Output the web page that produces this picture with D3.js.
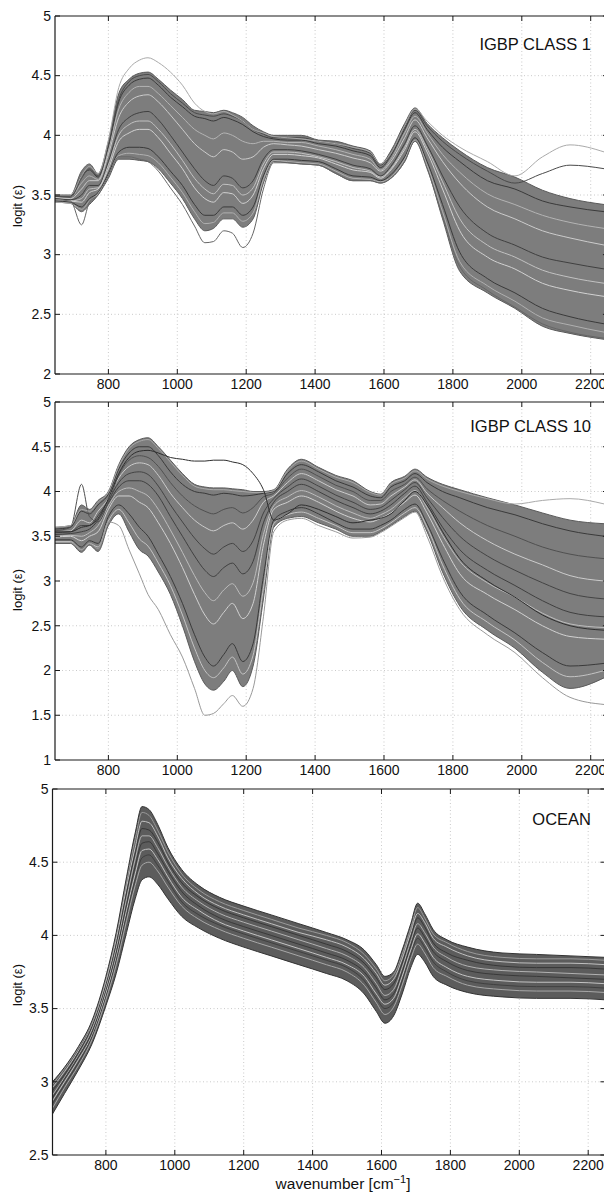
<!DOCTYPE html>
<html>
<head>
<meta charset="utf-8">
<script src="https://cdn.jsdelivr.net/npm/d3@7"></script>
<style>
  body { margin: 0; background: #fff; }
  svg { display: block; font-family: "Liberation Sans", Arial, sans-serif; }
</style>
</head>
<body>
<svg id="chart" width="604" height="1195"></svg>
<script>
// wavenumber grid for the two land classes (cm-1)
var wnLand = [645, 690, 722, 745, 770, 800, 830, 860, 890, 915,
              945, 980, 1015, 1050, 1080, 1105, 1135, 1160, 1190, 1220,
              1250, 1280, 1320, 1360, 1410, 1460, 1510, 1560, 1590, 1620,
              1660, 1690, 1725, 1770, 1820, 1900, 1980, 2060, 2140, 2240];

// IGBP class 1 : band edges and single spectra
var c1Upper = [3.50,3.50,3.70,3.76,3.68,3.95,4.35,4.47,4.52,4.53,
               4.47,4.38,4.30,4.21,4.20,4.19,4.21,4.19,4.15,4.08,
               4.03,4.00,4.00,4.00,3.96,3.95,3.91,3.87,3.76,3.87,
               4.10,4.23,4.10,3.98,3.87,3.73,3.65,3.54,3.47,3.42];
var c1Lower = [3.44,3.43,3.36,3.42,3.50,3.64,3.80,3.80,3.79,3.78,
               3.72,3.60,3.47,3.30,3.20,3.22,3.30,3.30,3.23,3.30,
               3.60,3.78,3.77,3.76,3.75,3.68,3.62,3.62,3.60,3.64,
               3.78,3.95,3.73,3.30,2.86,2.68,2.55,2.40,2.34,2.29];
var c1LineA = [3.49,3.49,3.66,3.71,3.65,3.90,4.28,4.42,4.47,4.48,
               4.42,4.32,4.24,4.16,4.14,4.12,4.15,4.13,4.09,4.03,
               3.99,3.97,3.96,3.96,3.93,3.91,3.87,3.83,3.73,3.83,
               4.05,4.19,4.05,3.90,3.78,3.62,3.55,3.45,3.40,3.36];
var c1LineF = [3.48,3.48,3.60,3.66,3.63,3.87,4.22,4.36,4.41,4.41,
               4.35,4.25,4.15,4.05,4.00,3.97,4.02,4.00,3.95,3.93,
               3.95,3.95,3.94,3.94,3.91,3.88,3.84,3.80,3.71,3.80,
               4.02,4.16,4.02,3.84,3.69,3.51,3.42,3.33,3.27,3.22];
var c1LineB = [3.48,3.47,3.55,3.62,3.62,3.84,4.15,4.28,4.33,4.34,
               4.28,4.17,4.05,3.93,3.86,3.82,3.88,3.86,3.80,3.82,
               3.90,3.93,3.92,3.91,3.88,3.85,3.81,3.77,3.70,3.78,
               3.98,4.13,3.98,3.78,3.60,3.40,3.30,3.20,3.14,3.08];
var c1LineC = [3.47,3.46,3.50,3.58,3.58,3.78,4.05,4.15,4.19,4.20,
               4.13,4.00,3.86,3.72,3.62,3.58,3.66,3.64,3.56,3.62,
               3.80,3.88,3.88,3.87,3.84,3.80,3.75,3.72,3.66,3.74,
               3.93,4.08,3.92,3.66,3.40,3.18,3.08,2.98,2.93,2.88];
var c1LineG = [3.46,3.45,3.47,3.55,3.56,3.75,4.00,4.09,4.12,4.12,
               4.05,3.93,3.79,3.64,3.55,3.51,3.59,3.58,3.50,3.56,
               3.76,3.86,3.86,3.85,3.82,3.78,3.73,3.70,3.65,3.72,
               3.90,4.05,3.89,3.61,3.30,3.08,2.98,2.87,2.81,2.76];
var c1LineD = [3.46,3.45,3.44,3.52,3.55,3.72,3.95,4.02,4.05,4.05,
               3.98,3.85,3.72,3.56,3.47,3.44,3.52,3.51,3.43,3.50,
               3.72,3.84,3.84,3.83,3.81,3.76,3.71,3.69,3.64,3.71,
               3.88,4.03,3.86,3.55,3.20,2.98,2.88,2.76,2.70,2.65];
var c1LineE = [3.45,3.44,3.40,3.47,3.52,3.68,3.86,3.90,3.90,3.89,
               3.82,3.70,3.58,3.42,3.33,3.33,3.40,3.40,3.33,3.40,
               3.66,3.80,3.80,3.79,3.78,3.72,3.66,3.65,3.62,3.67,
               3.82,3.98,3.78,3.42,3.02,2.80,2.68,2.55,2.48,2.42];
var c1LineH = [3.44,3.43,3.38,3.45,3.51,3.66,3.83,3.85,3.84,3.83,
               3.77,3.65,3.52,3.36,3.26,3.27,3.35,3.35,3.28,3.35,
               3.63,3.79,3.78,3.77,3.76,3.70,3.64,3.63,3.61,3.65,
               3.80,3.96,3.75,3.36,2.94,2.74,2.61,2.47,2.41,2.35];
var c1High  = [3.50,3.50,3.66,3.74,3.68,3.96,4.40,4.56,4.63,4.65,
               4.61,4.53,4.42,4.27,4.20,4.18,4.20,4.17,4.12,4.05,
               4.02,3.99,3.98,3.97,3.95,3.93,3.90,3.86,3.76,3.85,
               4.08,4.22,4.12,4.00,3.90,3.78,3.66,3.82,3.92,3.86];
var c1Top2  = [3.49,3.48,3.64,3.72,3.66,3.92,4.30,4.45,4.50,4.51,
               4.45,4.35,4.27,4.19,4.17,4.16,4.18,4.16,4.12,4.05,
               4.01,3.98,3.98,3.98,3.95,3.93,3.89,3.85,3.75,3.85,
               4.07,4.21,4.08,3.95,3.84,3.70,3.60,3.68,3.75,3.72];
var c1Low   = [3.46,3.45,3.25,3.44,3.50,3.66,3.82,3.82,3.80,3.78,
               3.70,3.56,3.42,3.24,3.10,3.11,3.20,3.18,3.06,3.18,
               3.55,3.77,3.77,3.76,3.75,3.68,3.62,3.62,3.60,3.64,
               3.78,3.95,3.72,3.32,2.90,2.70,2.56,2.42,2.35,2.30];

// IGBP class 10
var c10Upper = [3.60,3.62,3.85,3.80,3.90,4.00,4.30,4.50,4.58,4.60,
                4.50,4.35,4.20,4.08,4.05,4.04,4.04,4.03,4.02,4.00,
                4.00,4.02,4.25,4.36,4.27,4.18,4.12,4.00,3.97,4.10,
                4.17,4.25,4.16,4.08,4.02,3.93,3.85,3.76,3.68,3.64];
var c10Lower = [3.42,3.42,3.32,3.40,3.33,3.62,3.75,3.55,3.35,3.28,
                3.10,2.85,2.50,2.10,1.85,1.78,1.88,2.00,1.82,2.05,
                2.80,3.60,3.70,3.72,3.65,3.58,3.50,3.50,3.55,3.62,
                3.72,3.78,3.55,3.10,2.72,2.45,2.25,1.98,1.80,1.92];
var c10LineA = [3.58,3.60,3.78,3.75,3.85,3.97,4.25,4.43,4.50,4.50,
                4.40,4.22,4.08,4.00,3.98,3.96,3.98,3.97,3.95,3.96,
                3.98,4.00,4.20,4.30,4.22,4.12,4.05,3.95,3.93,4.05,
                4.12,4.20,4.10,4.00,3.93,3.82,3.74,3.64,3.56,3.50];
var c10LineB = [3.55,3.56,3.68,3.65,3.78,3.92,4.15,4.28,4.32,4.30,
                4.18,3.98,3.82,3.68,3.60,3.56,3.62,3.65,3.58,3.68,
                3.88,3.95,4.10,4.20,4.12,4.02,3.95,3.85,3.86,3.95,
                4.05,4.13,3.98,3.82,3.65,3.45,3.30,3.18,3.06,3.00];
var c10LineF = [3.54,3.55,3.62,3.62,3.73,3.90,4.10,4.20,4.22,4.19,
                4.06,3.85,3.66,3.48,3.36,3.30,3.38,3.42,3.33,3.45,
                3.76,3.92,4.05,4.14,4.06,3.96,3.88,3.80,3.82,3.90,
                4.02,4.10,3.93,3.71,3.50,3.28,3.12,2.98,2.86,2.80];
var c10LineC = [3.52,3.53,3.55,3.58,3.68,3.87,4.05,4.12,4.12,4.08,
                3.95,3.72,3.50,3.28,3.12,3.05,3.15,3.20,3.08,3.22,
                3.65,3.88,4.00,4.08,4.00,3.90,3.82,3.75,3.78,3.85,
                3.98,4.06,3.88,3.60,3.35,3.12,2.95,2.78,2.65,2.60];
var c10LineG = [3.50,3.51,3.50,3.54,3.62,3.84,4.00,4.04,4.00,3.95,
                3.80,3.57,3.32,3.06,2.87,2.78,2.90,2.97,2.83,2.98,
                3.52,3.84,3.94,4.01,3.94,3.84,3.76,3.70,3.74,3.80,
                3.93,4.01,3.82,3.51,3.22,2.98,2.82,2.64,2.52,2.48];
var c10LineD = [3.49,3.50,3.45,3.50,3.55,3.80,3.95,3.95,3.88,3.82,
                3.65,3.42,3.15,2.85,2.62,2.52,2.65,2.75,2.58,2.75,
                3.40,3.80,3.88,3.95,3.88,3.78,3.70,3.66,3.70,3.76,
                3.88,3.96,3.76,3.42,3.08,2.85,2.68,2.50,2.38,2.35];
var c10LineE = [3.46,3.46,3.38,3.45,3.42,3.72,3.85,3.75,3.60,3.50,
                3.30,3.05,2.75,2.40,2.15,2.05,2.18,2.30,2.10,2.30,
                3.05,3.68,3.78,3.82,3.75,3.65,3.58,3.58,3.62,3.68,
                3.80,3.86,3.64,3.25,2.88,2.62,2.42,2.20,2.05,2.08];
var c10LineH = [3.44,3.44,3.35,3.42,3.38,3.67,3.80,3.65,3.47,3.39,
                3.20,2.95,2.62,2.25,2.00,1.92,2.03,2.15,1.96,2.17,
                2.92,3.64,3.74,3.77,3.70,3.62,3.54,3.54,3.58,3.65,
                3.76,3.82,3.60,3.18,2.80,2.54,2.34,2.09,1.93,2.00];
var c10Spike = [3.56,3.60,4.08,3.72,3.66,3.88,4.18,4.35,4.40,4.38,
                4.28,4.10,3.95,3.84,3.78,3.75,3.80,3.82,3.76,3.82,
                3.94,3.98,4.15,4.25,4.17,4.07,4.00,3.90,3.90,4.00,
                4.08,4.16,4.03,3.90,3.78,3.62,3.50,3.38,3.30,3.25];
var c10Flat  = [3.55,3.55,3.60,3.62,3.70,3.92,4.20,4.38,4.45,4.46,
                4.43,4.38,4.36,4.34,4.34,4.35,4.35,4.33,4.30,4.20,
                4.02,3.68,3.75,3.85,3.80,3.72,3.65,3.68,3.70,3.75,
                3.90,4.00,3.85,3.55,3.25,3.00,2.82,2.62,2.50,2.45];
var c10Low   = [3.43,3.43,3.35,3.42,3.36,3.66,3.62,3.35,3.08,2.85,
                2.68,2.40,2.15,1.80,1.50,1.52,1.63,1.72,1.60,1.80,
                2.60,3.55,3.68,3.70,3.62,3.55,3.48,3.49,3.54,3.61,
                3.71,3.77,3.50,3.05,2.68,2.40,2.20,1.92,1.70,1.62];
var c10High  = [3.60,3.62,3.80,3.78,3.88,3.99,4.28,4.48,4.56,4.58,
                4.48,4.33,4.18,4.06,4.03,4.02,4.02,4.01,4.00,3.99,
                3.99,4.01,4.23,4.34,4.25,4.16,4.10,3.99,3.96,4.08,
                4.15,4.23,4.14,4.06,4.00,3.92,3.86,3.90,3.92,3.86];

// ocean
var wnOcean = [645, 680, 720, 760, 800, 830, 860, 885, 905, 925,
               950, 980, 1020, 1070, 1130, 1200, 1280, 1360, 1440, 1500,
               1550, 1585, 1610, 1635, 1660, 1685, 1705, 1725, 1750, 1790,
               1850, 1950, 2050, 2150, 2250];
var ocUpper = [3.00,3.10,3.24,3.42,3.72,4.02,4.40,4.70,4.88,4.86,
               4.76,4.60,4.45,4.34,4.26,4.20,4.14,4.08,4.02,3.97,
               3.90,3.80,3.72,3.75,3.90,4.08,4.22,4.15,4.04,3.97,
               3.92,3.88,3.87,3.86,3.85];
var ocLineE = [2.98,3.09,3.23,3.41,3.70,4.00,4.37,4.66,4.84,4.82,
               4.72,4.57,4.42,4.31,4.23,4.17,4.11,4.05,4.00,3.95,
               3.87,3.77,3.69,3.73,3.87,4.05,4.19,4.12,4.01,3.95,
               3.89,3.85,3.84,3.84,3.83];
var ocLineA = [2.96,3.07,3.21,3.39,3.68,3.97,4.33,4.60,4.78,4.77,
               4.68,4.53,4.39,4.28,4.20,4.14,4.08,4.02,3.97,3.92,
               3.84,3.74,3.66,3.70,3.84,4.02,4.15,4.09,3.98,3.92,
               3.86,3.82,3.81,3.81,3.80];
var ocLineF = [2.94,3.05,3.20,3.38,3.66,3.94,4.29,4.56,4.73,4.72,
               4.64,4.50,4.36,4.26,4.18,4.12,4.06,4.00,3.94,3.89,
               3.81,3.71,3.63,3.67,3.81,3.99,4.12,4.06,3.95,3.88,
               3.83,3.79,3.78,3.78,3.77];
var ocLineB = [2.91,3.03,3.18,3.36,3.64,3.91,4.25,4.52,4.68,4.68,
               4.60,4.47,4.33,4.23,4.15,4.09,4.03,3.97,3.91,3.86,
               3.78,3.67,3.59,3.63,3.78,3.96,4.08,4.02,3.92,3.85,
               3.79,3.76,3.75,3.74,3.73];
var ocLineG = [2.89,3.02,3.17,3.34,3.62,3.88,4.21,4.47,4.63,4.64,
               4.56,4.44,4.30,4.20,4.12,4.06,4.00,3.94,3.88,3.83,
               3.75,3.64,3.56,3.60,3.75,3.93,4.05,3.99,3.89,3.82,
               3.76,3.73,3.72,3.71,3.70];
var ocLineC = [2.87,3.00,3.15,3.32,3.60,3.85,4.17,4.42,4.58,4.59,
               4.52,4.40,4.26,4.17,4.09,4.03,3.97,3.91,3.85,3.80,
               3.72,3.60,3.53,3.57,3.72,3.90,4.01,3.95,3.85,3.78,
               3.72,3.69,3.68,3.68,3.67];
var ocLineH = [2.85,2.98,3.13,3.31,3.58,3.83,4.14,4.38,4.53,4.55,
               4.48,4.37,4.23,4.14,4.07,4.01,3.95,3.89,3.83,3.78,
               3.69,3.57,3.50,3.54,3.69,3.87,3.98,3.92,3.82,3.75,
               3.69,3.66,3.65,3.65,3.64];
var ocLineD = [2.82,2.96,3.11,3.29,3.56,3.80,4.10,4.34,4.48,4.50,
               4.44,4.33,4.20,4.11,4.04,3.98,3.92,3.86,3.80,3.75,
               3.66,3.54,3.46,3.51,3.66,3.84,3.94,3.88,3.78,3.72,
               3.66,3.63,3.62,3.62,3.61];
var ocLower = [2.78,2.92,3.08,3.26,3.52,3.74,4.02,4.25,4.38,4.40,
               4.35,4.25,4.13,4.05,3.98,3.92,3.86,3.80,3.74,3.69,
               3.60,3.48,3.40,3.45,3.60,3.78,3.87,3.82,3.72,3.66,
               3.61,3.58,3.57,3.57,3.56];

var xTicks = [800, 1000, 1200, 1400, 1600, 1800, 2000, 2200];

var panels = [
  { title: 'IGBP CLASS 1', left: 55, top: 16, bottom: 374, ymin: 2, ymax: 5,
    titleY: 50, labY: 206, wn: wnLand, upper: c1Upper, lower: c1Lower, fill: '#7d7d7d',
    lines: [[c1Upper, '#5a5a5a'], [c1Lower, '#5a5a5a'],
            [c1LineA, '#3a3a3a'], [c1LineF, '#b4b4b4'], [c1LineB, '#cccccc'], [c1LineC, '#404040'],
            [c1LineG, '#c2c2c2'], [c1LineD, '#d2d2d2'], [c1LineE, '#3a3a3a'], [c1LineH, '#b0b0b0'],
            [c1Top2, '#4a4a4a'], [c1High, '#aaaaaa'], [c1Low, '#666666']] },
  { title: 'IGBP CLASS 10', left: 55, top: 402, bottom: 760, ymin: 1, ymax: 5,
    titleY: 432, labY: 590, wn: wnLand, upper: c10Upper, lower: c10Lower, fill: '#7d7d7d',
    lines: [[c10Upper, '#5a5a5a'], [c10Lower, '#5a5a5a'],
            [c10LineA, '#3a3a3a'], [c10LineB, '#cccccc'], [c10LineF, '#444444'], [c10LineC, '#404040'],
            [c10LineG, '#bdbdbd'], [c10LineD, '#d2d2d2'], [c10LineE, '#3a3a3a'], [c10LineH, '#c4c4c4'],
            [c10Spike, '#505050'], [c10High, '#aaaaaa'], [c10Flat, '#2e2e2e'], [c10Low, '#999999']] },
  { title: 'OCEAN', left: 52.5, top: 789, bottom: 1155, ymin: 2.5, ymax: 5,
    titleY: 825, labY: 985, wn: wnOcean, upper: ocUpper, lower: ocLower, fill: '#5c5c5c',
    lines: [[ocLineE, '#9a9a9a'], [ocLineA, '#c0c0c0'], [ocLineF, '#383838'], [ocLineB, '#b2b2b2'],
            [ocLineG, '#3a3a3a'], [ocLineC, '#c4c4c4'], [ocLineH, '#404040'], [ocLineD, '#a8a8a8'],
            [ocUpper, '#333333'], [ocLower, '#333333']] }
];

var svg = d3.select('#chart');
var pxPerWn = 0.3445;

panels.forEach(function (p, k) {
  var x = d3.scaleLinear().domain([645, 2250]).range([p.left, p.left + 1605 * pxPerWn]);
  var y = d3.scaleLinear().domain([p.ymin, p.ymax]).range([p.bottom, p.top]);
  var yTicks = d3.range(p.ymin, p.ymax + 0.01, 0.5);
  var right = x.range()[1];
  var g = svg.append('g');

  // dotted grid
  g.selectAll('.gx').data(xTicks).enter().append('line')
    .attr('x1', x).attr('x2', x).attr('y1', p.top).attr('y2', p.bottom)
    .attr('stroke', '#bdbdbd').attr('stroke-width', 0.8).attr('stroke-dasharray', '1,2.5');
  g.selectAll('.gy').data(yTicks.slice(1, -1)).enter().append('line')
    .attr('x1', p.left).attr('x2', right).attr('y1', y).attr('y2', y)
    .attr('stroke', '#bdbdbd').attr('stroke-width', 0.8).attr('stroke-dasharray', '1,2.5');

  var clipId = 'clip' + k;
  svg.append('clipPath').attr('id', clipId).append('rect')
    .attr('x', p.left).attr('y', p.top).attr('width', 604 - p.left).attr('height', p.bottom - p.top);
  var plot = g.append('g').attr('clip-path', 'url(#' + clipId + ')');

  var area = d3.area()
    .x(function (d, i) { return x(p.wn[i]); })
    .y0(function (d, i) { return y(p.lower[i]); })
    .y1(function (d) { return y(d); })
    .curve(d3.curveMonotoneX);
  plot.append('path').datum(p.upper).attr('d', area).attr('fill', p.fill);

  var line = d3.line()
    .x(function (d, i) { return x(p.wn[i]); })
    .y(function (d) { return y(d); })
    .curve(d3.curveMonotoneX);
  plot.selectAll('.spec').data(p.lines).enter().append('path')
    .attr('d', function (d) { return line(d[0]); })
    .attr('fill', 'none').attr('stroke', function (d) { return d[1]; })
    .attr('stroke-width', 1);

  // frame and inward ticks
  var ink = '#1a1a1a';
  g.append('line').attr('x1', p.left).attr('x2', 604).attr('y1', p.top).attr('y2', p.top)
    .attr('stroke', ink).attr('stroke-width', 1.2);
  g.append('line').attr('x1', p.left).attr('x2', 604).attr('y1', p.bottom).attr('y2', p.bottom)
    .attr('stroke', ink).attr('stroke-width', 1.2);
  g.append('line').attr('x1', p.left).attr('x2', p.left).attr('y1', p.top).attr('y2', p.bottom)
    .attr('stroke', ink).attr('stroke-width', 1.2);

  xTicks.forEach(function (t) {
    g.append('line').attr('x1', x(t)).attr('x2', x(t)).attr('y1', p.bottom).attr('y2', p.bottom - 5)
      .attr('stroke', ink);
    g.append('line').attr('x1', x(t)).attr('x2', x(t)).attr('y1', p.top).attr('y2', p.top + 5)
      .attr('stroke', ink);
  });
  yTicks.forEach(function (t) {
    g.append('line').attr('x1', p.left).attr('x2', p.left + 5).attr('y1', y(t)).attr('y2', y(t))
      .attr('stroke', ink);
    g.append('line').attr('x1', right).attr('x2', right - 5).attr('y1', y(t)).attr('y2', y(t))
      .attr('stroke', ink);
  });

  g.selectAll('.xl').data(xTicks).enter().append('text')
    .attr('x', x).attr('y', p.bottom + 15)
    .attr('text-anchor', 'middle').attr('font-size', 14).attr('fill', '#111')
    .text(function (d) { return d; });
  g.selectAll('.yl').data(yTicks).enter().append('text')
    .attr('x', p.left - 4).attr('y', function (d) { return y(d) + 4.8; })
    .attr('text-anchor', 'end').attr('font-size', 14).attr('fill', '#111')
    .text(function (d) { return d; });

  g.append('text').attr('x', 591).attr('y', p.titleY)
    .attr('text-anchor', 'end').attr('font-size', 16.5).attr('fill', '#111')
    .text(p.title);

  g.append('text')
    .attr('transform', 'translate(22,' + p.labY + ') rotate(-90)')
    .attr('text-anchor', 'middle').attr('font-size', 13).attr('fill', '#111')
    .text('logit (\u03b5)');
});

var xl = svg.append('text').attr('x', 343).attr('y', 1189)
  .attr('text-anchor', 'middle').attr('font-size', 15.5).attr('fill', '#111');
xl.append('tspan').text('wavenumber [cm');
xl.append('tspan').attr('dy', -6).attr('font-size', 11).text('\u22121');
xl.append('tspan').attr('dy', 6).text(']');
</script>
</body>
</html>
